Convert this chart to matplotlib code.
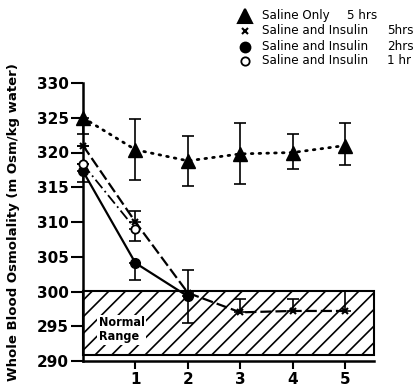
import matplotlib
matplotlib.use("Agg")
import matplotlib.pyplot as plt
from matplotlib.lines import Line2D
from matplotlib.patches import Rectangle

plt.rcParams["hatch.linewidth"] = 1.2

# ---- data ----
hours_saline = [0, 1, 2, 3, 4, 5]
saline_only = [325.0, 320.4, 318.8, 319.8, 320.0, 321.0]
saline_only_lo = [2.4, 4.4, 3.6, 4.4, 2.4, 2.8]
saline_only_hi = [0.0, 4.4, 3.6, 4.4, 2.6, 3.2]

hours_5 = [0, 1, 2, 3, 4, 5]
insulin_5h = [321.0, 310.0, 299.8, 297.0, 297.2, 297.2]
insulin_5h_hi = [0.0, 1.6, 3.3, 1.9, 1.7, 2.9]

hours_2 = [0, 1, 2]
insulin_2h = [317.3, 304.1, 299.3]
insulin_2h_lo = [1.6, 2.5, 3.8]

hours_1 = [0, 1]
insulin_1h = [318.3, 309.0]
insulin_1h_lo = [0.0, 1.8]

normal_range = (290.8, 300.0)
x_ticks = [1, 2, 3, 4, 5]
y_ticks = [290, 295, 300, 305, 310, 315, 320, 325, 330]

legend_rows = [("^", "Saline Only", "5 hrs", 10),
               ("x", "Saline and Insulin", "5hrs", 4),
               ("o", "Saline and Insulin", "2hrs", 7),
               ("o_open", "Saline and Insulin", "1 hr", 6)]

W, H = 418, 387
fig = plt.figure(figsize=(W / 100, H / 100), dpi=100)
ax = fig.add_axes([83 / W, 1 - 361 / H, 291 / W, 278 / H])
ax.set_xlim(0, 5.55)
ax.set_ylim(290, 330)

# normal range box
ax.add_patch(Rectangle((0, normal_range[0]), 5.55, normal_range[1] - normal_range[0],
                       facecolor="white", edgecolor="black", hatch="//", lw=1.5,
                       clip_on=False, zorder=1))
ax.text(0.3, 294.5, "Normal\nRange", fontsize=9, ha="left", va="center",
        fontstretch="condensed", fontweight="bold",
        linespacing=1.15, zorder=2,
        bbox=dict(facecolor="white", edgecolor="none", pad=1))

ekw = dict(ecolor="black", elinewidth=1.2, capsize=4, capthick=1.2, clip_on=False)

# saline only
ax.plot(hours_saline, saline_only, color="black", lw=2.0,
        linestyle=(0, (0.6, 2.2)), dash_capstyle="round", zorder=3, clip_on=False)
ax.errorbar(hours_saline, saline_only, yerr=[saline_only_lo, saline_only_hi],
            fmt="none", zorder=3, **ekw)
ax.plot(hours_saline, saline_only, linestyle="none", marker="^", ms=10,
        color="black", zorder=4, clip_on=False)

# 5 hr insulin
ax.plot(hours_5, insulin_5h, color="black", lw=1.6, linestyle=(0, (5, 1.8)),
        zorder=3, clip_on=False)
ax.errorbar(hours_5, insulin_5h, yerr=[[0] * 6, insulin_5h_hi], fmt="none",
            zorder=3, **ekw)
ax.plot(hours_5, insulin_5h, linestyle="none", marker="x", ms=4, mew=1.5,
        color="black", zorder=4, clip_on=False)

# 2 hr insulin
ax.plot(hours_2, insulin_2h, color="black", lw=1.6, linestyle="-", zorder=3,
        clip_on=False)
ax.errorbar(hours_2, insulin_2h, yerr=[insulin_2h_lo, [0] * 3], fmt="none",
            zorder=3, **ekw)
ax.plot(hours_2, insulin_2h, linestyle="none", marker="o", ms=7,
        color="black", zorder=4, clip_on=False)

# 1 hr insulin
ax.plot(hours_1, insulin_1h, color="black", lw=1.3, linestyle=(0, (6, 2, 1, 2)),
        zorder=3, clip_on=False)
ax.errorbar(hours_1, insulin_1h, yerr=[insulin_1h_lo, [0] * 2], fmt="none",
            zorder=3, **ekw)
ax.plot(hours_1, insulin_1h, linestyle="none", marker="o", ms=6, mfc="white",
        mec="black", mew=1.3, zorder=5, clip_on=False)

# axes styling
for s in ("top", "right"):
    ax.spines[s].set_visible(False)
ax.spines["left"].set_linewidth(1.8)
ax.spines["bottom"].set_linewidth(1.8)
ax.set_xticks(x_ticks)
ax.set_xticklabels([str(v) for v in x_ticks])
ax.set_yticks(y_ticks)
ax.set_yticklabels([str(v) for v in y_ticks])
ax.tick_params(axis="y", direction="out", length=9, width=1.5, pad=1, labelsize=11)
ax.tick_params(axis="x", direction="out", length=6, width=1.5, pad=2, labelsize=11)
for lbl in ax.get_xticklabels() + ax.get_yticklabels():
    lbl.set_fontweight("bold")
ax.set_ylabel("Whole Blood Osmolality (m Osm/kg water)", fontsize=9.5,
              fontweight="bold")
ax.yaxis.set_label_coords(-0.215, 0.5)

# legend (manual)
ys = [15.5, 31, 46.5, 61]
for (m, lab, hrs, ms), y in zip(legend_rows, ys):
    fy = 1 - y / H
    if m == "o_open":
        fig.add_artist(Line2D([245 / W], [fy], transform=fig.transFigure, marker="o",
                              ms=ms, mfc="white", mec="black", mew=1.3, linestyle="none"))
    else:
        fig.add_artist(Line2D([245 / W], [fy], transform=fig.transFigure, marker=m,
                              ms=ms, color="black", mew=1.5, linestyle="none"))
    fig.text(262 / W, fy, lab, fontsize=9.5, ha="left", va="center",
             fontstretch="condensed")
    hx = 347 if hrs == "5 hrs" else 387
    fig.text(hx / W, fy, hrs, fontsize=9.5, ha="left", va="center",
             fontstretch="condensed")

fig.savefig("out.png", dpi=100)
